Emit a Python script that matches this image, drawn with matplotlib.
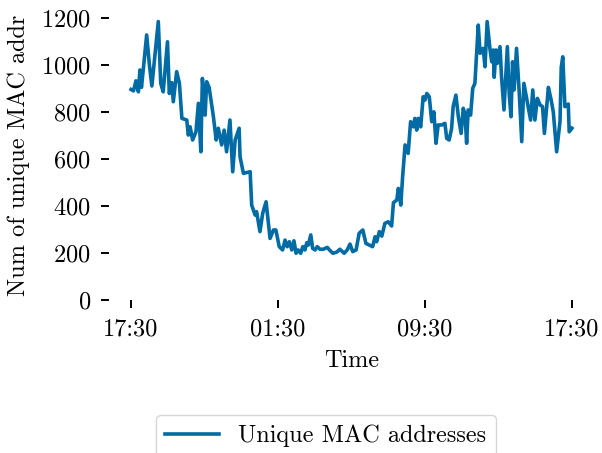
import matplotlib
matplotlib.use("Agg")
import matplotlib.pyplot as plt
import matplotlib.dates as mdates
import pandas as pd

plt.rcParams['font.family'] = 'cmr10'
plt.rcParams['mathtext.fontset'] = 'cm'
plt.rcParams['axes.formatter.use_mathtext'] = True

# minutes after 17:30 (start of the day window)
minutes = [0, 8, 16, 24, 29, 34, 40, 51, 60, 68, 89, 97, 105, 119, 125, 133, 138, 149, 158, 166,
           182, 187, 193, 201, 212, 220, 228, 233, 242, 247, 255, 269, 278, 285, 296, 304, 312, 323,
           332, 340, 353, 356, 367, 389, 394, 405, 410, 421, 430, 441, 454, 465, 473, 484, 495, 503,
           510, 517, 525, 532, 539, 546, 554, 561, 568, 574, 579, 587, 593, 601, 608, 617, 628, 641,
           648, 659, 672, 682, 696, 706, 715, 724, 735, 745, 757, 767, 778, 789, 797, 802, 811, 819,
           829, 840, 851, 857, 868, 873, 881, 887, 895, 905, 913, 922, 927, 933, 938, 946, 954, 960,
           966, 974, 982, 989, 996, 1003, 1015, 1025, 1031, 1039, 1047, 1052, 1061, 1069, 1078, 1085,
           1091, 1096, 1101, 1109, 1116, 1123, 1134, 1140, 1150, 1156, 1163, 1172, 1178, 1183, 1186,
           1192, 1196, 1205, 1210, 1218, 1229, 1235, 1241, 1246, 1251, 1259, 1268, 1276, 1283, 1292,
           1305, 1312, 1319, 1327, 1336, 1344, 1350, 1363, 1371, 1379, 1390, 1401, 1405, 1410, 1417,
           1428, 1431, 1440]

unique_mac = [896, 890, 933, 886, 979, 905, 982, 1128, 1000, 911, 1185, 922, 886, 1099, 879, 925, 844, 972, 922, 773,
              766, 702, 737, 681, 716, 837, 631, 943, 787, 929, 905, 780, 681, 731, 660, 723, 631, 766,
              546, 681, 731, 610, 539, 546, 404, 362, 376, 291, 369, 418, 262, 298, 298, 227, 213, 255,
              227, 248, 213, 252, 199, 213, 199, 227, 213, 244, 234, 277, 220, 213, 227, 216, 216, 224,
              213, 199, 204, 216, 199, 213, 238, 206, 213, 284, 298, 241, 234, 227, 269, 248, 291, 272,
              326, 333, 315, 414, 426, 475, 404, 525, 660, 624, 759, 737, 773, 723, 773, 737, 865, 851,
              879, 865, 759, 801, 667, 745, 745, 752, 688, 681, 731, 823, 872, 780, 709, 816,
              787, 667, 809, 787, 901, 922, 1170, 1050, 1071, 993, 1185, 1071, 1014, 1064, 948,
              1064, 1007, 1078, 950, 809, 1078, 879, 780, 1014, 894, 1071, 879, 674, 922, 858,
              766, 894, 766, 858, 830, 823, 709, 905, 858, 801, 631, 760, 990, 1035, 823,
              834, 716, 731]

start = pd.Timestamp("2019-06-01 17:30")
times = [start + pd.Timedelta(minutes=m) for m in minutes]
tick_times = [start + pd.Timedelta(hours=h) for h in (0, 8, 16, 24)]

fs = 17.5
fig = plt.figure(figsize=(6.02, 4.53), dpi=100)
ax = fig.add_axes([109/602, 1 - 300/453, 485/602, 290/453])
line, = ax.plot(times, unique_mac, color='#006BA4', lw=2.6, label='Unique MAC addresses')
ax.set_ylim(bottom=0)
ax.set_yticks([0, 200, 400, 600, 800, 1000, 1200])
ax.set_xticks(tick_times)
ax.xaxis.set_major_formatter(mdates.DateFormatter('%H:%M'))
for s in ax.spines.values():
    s.set_visible(False)
ax.tick_params(axis='both', length=6, width=1.4, labelsize=fs, pad=7)
ax.set_xlabel('Time', fontsize=fs, labelpad=7)
ax.set_ylabel('Num of unique MAC addr', fontsize=fs, labelpad=8)
fig.legend(handles=[line], loc='upper center', bbox_to_anchor=(326/602, 1 - 403/453),
           fontsize=fs, handlelength=2.2, fancybox=True)
fig.savefig('out.png', dpi=100)
